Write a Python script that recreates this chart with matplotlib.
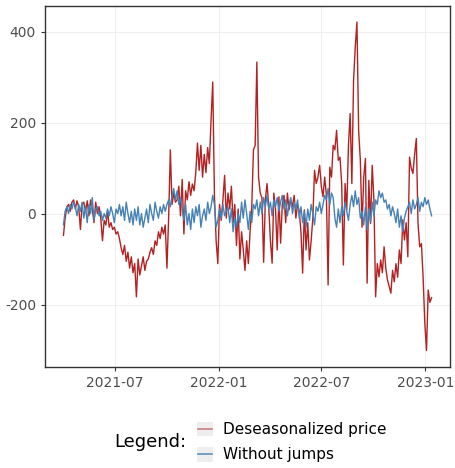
import matplotlib.pyplot as plt
import pandas as pd
from matplotlib.legend_handler import HandlerBase
from matplotlib.lines import Line2D
from matplotlib.patches import Rectangle

plt.rcParams['axes.unicode_minus'] = False

# prices sampled every 3 days from 2021-04-01
start_date = '2021-04-01'
step = '3D'

deseasonalized = [
    -48, -10, 15, 20, 5, 25, 30, 10, 28, 15,
    -35, 20, 25, 5, 28, -5, 30, 10, -20, 25,
    0, 15, -10, -60, -15, -25, 5, -30, -20, -35,
    -30, -45, -40, -55, -75, -90, -70, -105, -85, -120,
    -95, -130, -110, -183, -100, -135, -115, -95, -125, -105,
    -100, -85, -75, -90, -60, -70, -40, -55, -30, -45,
    -25, -120, -10, 140, 20, 45, 25, 30, 60, -5,
    75, -45, 50, 30, 70, 40, 65, 50, 90, 155,
    95, 150, 80, 130, 90, 145, 110, 205, 289, 40,
    -60, -110, 20, -15, 30, 84, -10, 45, 10, 60,
    -20, 20, -70, 10, -100, -40, -80, -125, -60, -110,
    -40, 15, 140, 150, 333, 80, 45, 35, -107, 30,
    66, 15, -60, -109, 45, 10, -80, 37, -65, 20,
    40, -20, 45, 8, 30, 15, 40, -10, 20, 5,
    -40, -131, 8, -80, -20, -102, -60, -10, 95, 66,
    80, 106, 60, 37, 80, 40, -157, 102, 80, 150,
    140, 183, 117, 124, 66, -113, 66, 8, 150, 220,
    66, 292, 366, 421, 183, 117, -30, 80, 121, -153,
    73, -22, 106, 30, -183, -110, -139, -102, -130, -73,
    -120, -146, -160, -175, -125, -150, -110, -140, -80, -110,
    -14, -58, -20, -95, 124, 100, 88, 130, 165, -22,
    -73, -66, -140, -240, -301, -168, -195, -185,
]

without_jumps = [
    -25, 5, 15, 0, 20, 10, 25, 15, -5, 20,
    5, 25, -10, 15, -20, 20, 0, 35, -15, 10,
    15, -5, 5, -15, 0, -10, 10, -5, 15, 0,
    -20, 10, 0, 20, -5, 15, -15, 25, 0, -20,
    5, -25, 10, -15, 15, -25, 0, -30, -10, 10,
    -20, 20, 0, -15, 25, 5, -10, 15, 0, 20,
    5, 20, 30, 15, 40, 55, 30, 50, 20, 35,
    10, -15, 20, -25, 0, -35, 10, -20, 15, -5,
    20, -30, -5, 10, -15, 25, 0, 15, 40, 20,
    -30, -15, 10, -10, 20, -5, 5, 15, -20, 10,
    -40, -10, -30, 0, -20, 25, -10, 30, 0, -35,
    5, -20, 20, 10, 30, -5, 25, 0, 35, 15,
    40, 10, 25, -5, 30, 15, 35, 5, 25, 40,
    10, 30, -5, 20, 35, 0, 25, 10, 30, -10,
    15, -20, 5, -30, 10, -15, 20, 0, -25, 15,
    5, 25, 0, 20, 40, 30, 55, 20, 45, 35,
    -10, -30, 10, -20, 15, -5, 25, 5, -15, 20,
    40, 15, 50, 20, 35, -10, 5, -25, 15, -35,
    10, -20, 25, -5, 30, 20, 50, 35, 45, 25,
    30, 10, 20, -5, 15, 0, -20, 10, -30, -5,
    -40, -10, 5, 15, 25, 0, 30, 10, 20, 35,
    5, 25, 15, 35, 20, 30, 10, -5,
]

series_names = ['Deseasonalized price', 'Without jumps']
series_colors = ['#b22222', '#4682b4']


class KeyHandler(HandlerBase):
    # grey key box with a short line across it
    def create_artists(self, legend, orig_handle, xdescent, ydescent,
                       width, height, fontsize, trans):
        box = Rectangle((-xdescent, -ydescent), width, height,
                        facecolor='#eeeeee', edgecolor='none', transform=trans)
        y = -ydescent + height / 2
        x0 = -xdescent + width * 0.08
        x1 = -xdescent + width * 0.92
        line = Line2D([x0, x1], [y, y], color=orig_handle.get_color(),
                      lw=1.2, alpha=orig_handle.get_alpha(), transform=trans)
        return [box, line]


dates = pd.date_range(start_date, periods=len(deseasonalized), freq=step)

fig = plt.figure(figsize=(4.55, 4.68), dpi=100)
ax = fig.add_axes([0.099, 0.216, 0.890, 0.772])

ax.plot(dates, deseasonalized, color=series_colors[0], lw=1.0)
ax.plot(dates, without_jumps, color=series_colors[1], lw=1.0)

# ggplot-style 5% expansion on both axes
span = dates[-1] - dates[0]
ax.set_xlim(dates[0] - span * 0.05, dates[-1] + span * 0.05)
lo = min(min(deseasonalized), min(without_jumps))
hi = max(max(deseasonalized), max(without_jumps))
ax.set_ylim(lo - (hi - lo) * 0.05, hi + (hi - lo) * 0.05)

ax.set_xticks(pd.to_datetime(['2021-07-01', '2022-01-01', '2022-07-01', '2023-01-01']))
ax.set_xticklabels(['2021-07', '2022-01', '2022-07', '2023-01'])
ax.set_yticks([-200, 0, 200, 400])

ax.grid(True, color='#ebebeb', lw=0.6)
ax.set_axisbelow(True)
for side in ax.spines.values():
    side.set_color('#333333')
    side.set_linewidth(1.0)
ax.tick_params(colors='#333333', labelcolor='#4d4d4d', labelsize=10,
               length=3, width=0.8)

handles = [Line2D([], [], color=series_colors[0], alpha=0.55),
           Line2D([], [], color=series_colors[1], alpha=0.85)]
fig.legend(handles, series_names, loc='center left',
           bbox_to_anchor=(197 / 455, 1 - 442 / 468),
           handler_map={Line2D: KeyHandler()},
           frameon=False, fontsize=11, borderpad=0, borderaxespad=0,
           handlelength=1.05, handleheight=1.1, handletextpad=0.65,
           labelspacing=0.65)
fig.text(150 / 455, 1 - 442 / 468, 'Legend:', fontsize=13,
         ha='center', va='center')

fig.savefig('out.png', dpi=100)
